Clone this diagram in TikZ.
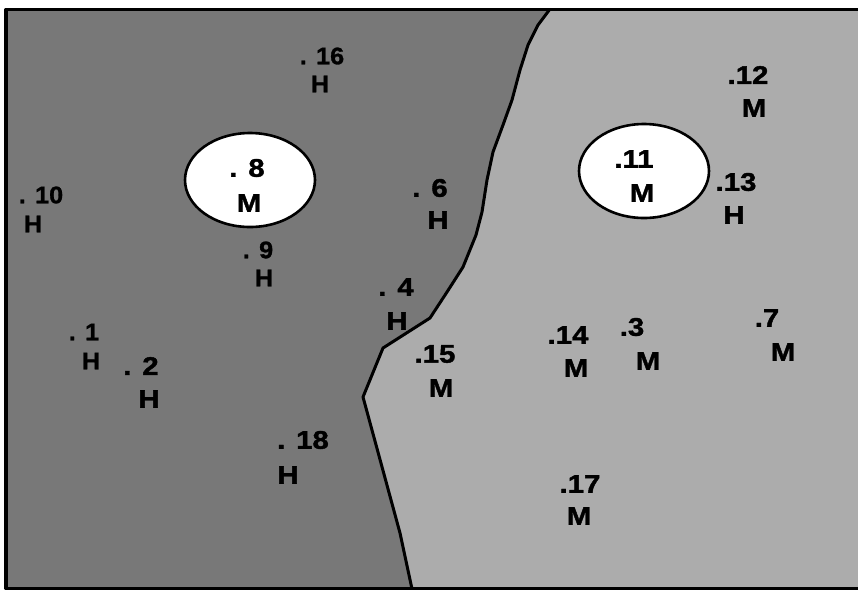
\documentclass[tikz,border=0pt]{standalone}
\usepackage{fontspec}
\setmainfont{Liberation Sans}
\newfontfamily\bigfont[FakeStretch=1.15, FakeBold=1.6]{Liberation Sans Bold}
\newfontfamily\smallfont[FakeStretch=1.05, FakeBold=1.2]{Liberation Sans Bold}
\definecolor{darkreg}{RGB}{120,120,120}
\definecolor{lightreg}{RGB}{172,172,172}
\begin{document}
\begin{tikzpicture}[x=1pt,y=-1pt,
  big/.style={font=\bigfont\fontsize{25.5}{25.5}\selectfont, inner sep=0pt},
  small/.style={font=\smallfont\fontsize{24}{24}\selectfont, inner sep=0pt},
  border/.style={line width=3.4pt, line join=round},
  region/.style={line width=3pt, line join=round}]
\useasboundingbox (0,0) rectangle (858,590);
\clip (0,0) rectangle (858,590);
\fill[white] (0,0) rectangle (858,590);
\fill[lightreg] (6,9) rectangle (870,589);
\fill[darkreg] (6,9) -- (550,9) -- (538,25) -- (528,45) -- (520,70) -- (512,100) -- (503,125) -- (493,152) -- (487,180) -- (482,212) -- (476,235) -- (463,267) -- (447,292) -- (430,318) -- (383,348) -- (363,397) -- (400,533) -- (412,589) -- (6,589) -- cycle;
\draw[region] (550,9) -- (538,25) -- (528,45) -- (520,70) -- (512,100) -- (503,125) -- (493,152) -- (487,180) -- (482,212) -- (476,235) -- (463,267) -- (447,292) -- (430,318) -- (383,348) -- (363,397) -- (400,533) -- (412,589);
\draw[border] (6,9.5) rectangle (880,588.5);
\filldraw[fill=white, line width=2.6pt] (250,180) ellipse [x radius=65, y radius=47];
\filldraw[fill=white, line width=2.6pt] (644,171) ellipse [x radius=65, y radius=47];
% left region
\node[big] (n8) at (247,168) {. 8};
\node[big] (l8) at (249,203) {M};
\node[big] (n6) at (430,188) {. 6};
\node[big] (l6) at (438,220) {H};
\node[big] (n4) at (396,287) {. 4};
\node[big] (l4) at (397,321) {H};
\node[big] (n2) at (141,366) {. 2};
\node[big] (l2) at (149,399) {H};
\node[big] (n18) at (303,440) {. 18};
\node[big] (l18) at (288,475) {H};
\node[small] (n16) at (322,56) {. 16};
\node[small] (l16) at (320,84) {H};
\node[small] (n10) at (41,195) {. 10};
\node[small] (l10) at (33,224) {H};
\node[small] (n9) at (258,250) {. 9};
\node[small] (l9) at (264,278) {H};
\node[small] (n1) at (84,332) {. 1};
\node[small] (l1) at (91,361) {H};
% right region
\node[big] (n15) at (435,354) {.15};
\node[big] (l15) at (441,388) {M};
\node[big] (n14) at (568,335) {.14};
\node[big] (l14) at (576,368) {M};
\node[big] (n3) at (632,327) {.3};
\node[big] (l3) at (648,361) {M};
\node[big] (n7) at (767,318) {.7};
\node[big] (l7) at (783,352) {M};
\node[big] (n17) at (580,484) {.17};
\node[big] (l17) at (579,516) {M};
\node[big] (n11) at (634,159) {.11};
\node[big] (l11) at (642,193) {M};
\node[big] (n12) at (748,75) {.12};
\node[big] (l12) at (754,108) {M};
\node[big] (n13) at (736,182) {.13};
\node[big] (l13) at (734,215) {H};
\end{tikzpicture}
\end{document}
